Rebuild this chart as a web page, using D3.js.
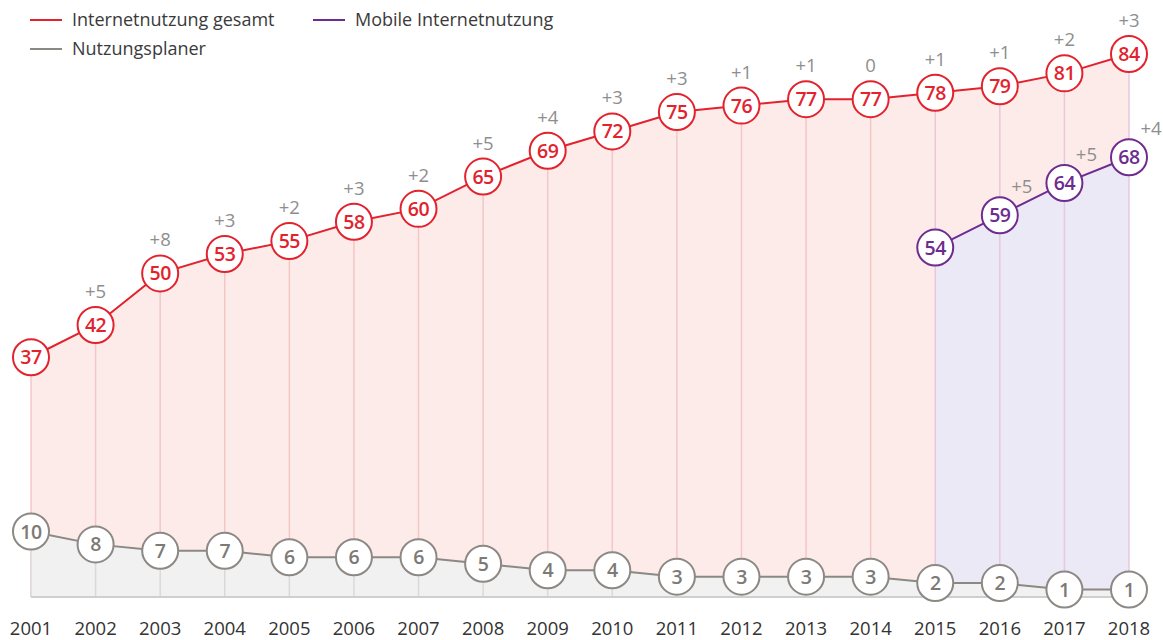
<!DOCTYPE html>
<html>
<head>
<meta charset="utf-8">
<script src="https://cdn.jsdelivr.net/npm/d3@7"></script>
<style>
  body { margin: 0; background: #fff; }
  svg { display: block; font-family: 'Open Sans', 'Noto Sans', sans-serif; }
</style>
</head>
<body>
<svg id="chart" width="1163" height="640"></svg>
<script>
'use strict';

var years = [2001, 2002, 2003, 2004, 2005, 2006, 2007, 2008, 2009, 2010, 2011, 2012, 2013, 2014, 2015, 2016, 2017, 2018];
var gesamt = [37, 42, 50, 53, 55, 58, 60, 65, 69, 72, 75, 76, 77, 77, 78, 79, 81, 84];
var gesamtDelta = ['', '+5', '+8', '+3', '+2', '+3', '+2', '+5', '+4', '+3', '+3', '+1', '+1', '0', '+1', '+1', '+2', '+3'];
var mobileYears = [2015, 2016, 2017, 2018];
var mobile = [54, 59, 64, 68];
var mobileDelta = ['', '+5', '+5', '+4'];
var planer = [10, 8, 7, 7, 6, 6, 6, 5, 4, 4, 3, 3, 3, 3, 2, 2, 1, 1];

var legendItems = [
    { label: 'Internetnutzung gesamt', color: '#e2232e', x: 30, y: 20 },
    { label: 'Mobile Internetnutzung', color: '#6e2c8f', x: 313, y: 20 },
    { label: 'Nutzungsplaner', color: '#8c8884', x: 30, y: 49 }
];

var RED = '#e2232e', PURPLE = '#6e2c8f', GREY = '#8c8884';
var R = 18;

var svg = d3.select('#chart');

var x = d3.scalePoint().domain(years).range([31, 1129]);
var y = d3.scaleLinear().domain([0, 84]).range([596, 54]);

var toPts = function (ys, vals) {
    return ys.map(function (yr, i) { return { year: yr, value: vals[i] }; });
};
var gesamtPts = toPts(years, gesamt);
var mobilePts = toPts(mobileYears, mobile);
var planerPts = toPts(years, planer);

//areas, back to front
var area = d3.area()
    .x(function (d) { return x(d.year); })
    .y0(y(0) + 1)
    .y1(function (d) { return y(d.value); });

svg.append('path').datum(gesamtPts).attr('d', area).attr('fill', '#fdebea');
svg.append('path').datum(mobilePts).attr('d', area).attr('fill', '#ece9f6');

//vertical year lines
svg.append('g').selectAll('line')
    .data(gesamtPts)
    .enter().append('line')
    .attr('x1', function (d) { return x(d.year); })
    .attr('x2', function (d) { return x(d.year); })
    .attr('y1', function (d) { return y(d.value); })
    .attr('y2', y(0) + 1)
    .attr('stroke', function (d) { return d.year >= 2015 ? '#e6c9dc' : '#f3c7c6'; })
    .attr('stroke-width', 1.5);

svg.append('path').datum(planerPts).attr('d', area).attr('fill', '#f1f1f1');
svg.append('g').selectAll('line')
    .data(planerPts)
    .enter().append('line')
    .attr('x1', function (d) { return x(d.year); })
    .attr('x2', function (d) { return x(d.year); })
    .attr('y1', function (d) { return y(d.value); })
    .attr('y2', y(0) + 1)
    .attr('stroke', '#dcd8d8')
    .attr('stroke-width', 1.5);
svg.append('line')
    .attr('x1', x(2001)).attr('x2', x(2018))
    .attr('y1', y(0) + 1).attr('y2', y(0) + 1)
    .attr('stroke', '#cfcfcf').attr('stroke-width', 2);

var line = d3.line()
    .x(function (d) { return x(d.year); })
    .y(function (d) { return y(d.value); });

function drawSeries(pts, color, textColor, deltas, dx, dy) {
    svg.append('path').datum(pts).attr('d', line)
        .attr('fill', 'none').attr('stroke', color).attr('stroke-width', 2);
    var g = svg.append('g').selectAll('g')
        .data(pts)
        .enter().append('g')
        .attr('transform', function (d) { return 'translate(' + x(d.year) + ',' + y(d.value) + ')'; });
    g.append('circle').attr('r', R)
        .attr('fill', '#fff').attr('stroke', color).attr('stroke-width', 2);
    g.append('text')
        .text(function (d) { return d.value; })
        .attr('text-anchor', 'middle').attr('dy', '0.36em')
        .attr('font-size', 19.5).attr('font-weight', 600)
        .attr('letter-spacing', -0.5)
        .attr('fill', textColor);
    if (deltas) {
        g.append('text')
            .text(function (d, i) { return deltas[i]; })
            .attr('x', dx).attr('y', dy)
            .attr('text-anchor', 'middle')
            .attr('font-size', 18.5)
            .attr('fill', '#8e8e8e');
    }
}

drawSeries(planerPts, GREY, '#7d7975', null);
drawSeries(gesamtPts, RED, RED, gesamtDelta, 0, -27);
drawSeries(mobilePts, PURPLE, PURPLE, mobileDelta, 22, -22);

//year labels
svg.append('g').selectAll('text')
    .data(years)
    .enter().append('text')
    .attr('x', function (d) { return x(d); })
    .attr('y', 635)
    .attr('text-anchor', 'middle')
    .attr('font-size', 18.5)
    .attr('fill', '#333')
    .text(function (d) { return d; });

//legend
var lg = svg.append('g').selectAll('g')
    .data(legendItems)
    .enter().append('g')
    .attr('transform', function (d) { return 'translate(' + d.x + ',' + d.y + ')'; });
lg.append('line').attr('x1', 0).attr('x2', 32)
    .attr('stroke', function (d) { return d.color; }).attr('stroke-width', 2);
lg.append('text').attr('x', 42).attr('dy', '0.35em')
    .attr('font-size', 18).attr('fill', '#3a3a3a')
    .text(function (d) { return d.label; });
</script>
</body>
</html>
